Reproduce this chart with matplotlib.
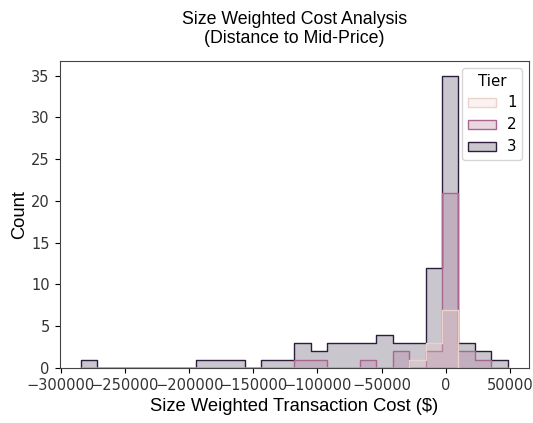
import numpy as np
import pandas as pd
import matplotlib
matplotlib.use("Agg")
import matplotlib.pyplot as plt
import seaborn as sns

# bin layout (26 equal bins)
lo, hi, n_bins = -284500, 48300, 26
edges = np.linspace(lo, hi, n_bins + 1)
centers = (edges[:-1] + edges[1:]) / 2

# counts per bin for each tier
tier1 = [0, 0, 0, 0, 0, 0, 0, 0, 0, 0, 0, 0, 0, 0, 0, 0, 0, 0, 0, 0, 1, 3, 7, 0, 0, 0]
tier2 = [0, 0, 0, 0, 0, 0, 0, 0, 0, 0, 0, 0, 0, 1, 1, 0, 0, 1, 0, 2, 0, 2, 21, 2, 1, 0]
tier3 = [1, 0, 0, 0, 0, 0, 0, 1, 1, 1, 0, 1, 1, 3, 2, 3, 3, 3, 4, 3, 3, 12, 35, 3, 2, 1]

rows = []
for tier, counts in [(1, tier1), (2, tier2), (3, tier3)]:
    for c, n in zip(centers, counts):
        rows.append({"cost": c, "n": n, "Tier": tier})
df = pd.DataFrame(rows)

fig = plt.figure(figsize=(5.33, 4.23), dpi=100)
ax = fig.add_axes([59.5 / 533, 1 - 368 / 423, (529 - 59.5) / 533, (368 - 61) / 423])

sns.histplot(data=df, x="cost", weights="n", hue="Tier", bins=n_bins,
             binrange=(lo, hi), element="step", ax=ax)

for lab in ax.get_xticklabels() + ax.get_yticklabels():
    lab.set_fontsize(10.5)
    lab.set_color("#333333")
for s in ax.spines.values():
    s.set_color("#444444")
leg = ax.get_legend()
for t in leg.get_texts():
    t.set_fontsize(10.8)
leg.get_title().set_fontsize(10.8)

ax.set_title("Size Weighted Cost Analysis\n(Distance to Mid-Price)",
             fontfamily="Liberation Sans", fontsize=12.8, pad=13, linespacing=1.15)
ax.set_xlabel("Size Weighted Transaction Cost ($)", fontfamily="Liberation Sans", fontsize=13.2)
ax.set_ylabel("Count", fontfamily="Liberation Sans", fontsize=13.2, labelpad=2)

plt.savefig("out.png", dpi=100)
plt.close()
